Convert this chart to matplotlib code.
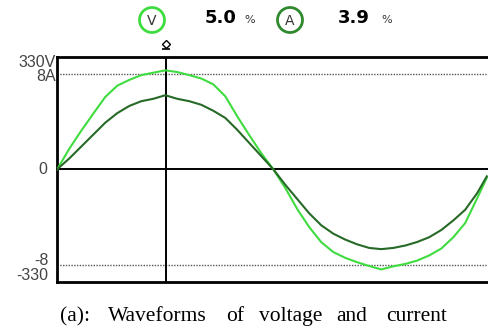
import matplotlib.pyplot as plt
from matplotlib.patches import Ellipse

# phase angle (deg) of each sample
angle = [0, 10, 20, 30, 40, 50, 60, 70, 80, 90, 100, 110, 120, 130, 140, 150, 160, 170, 180,
         190, 200, 210, 220, 230, 240, 250, 260, 270, 280, 290, 300, 310, 320, 330, 340, 350, 358]

# voltage, V
voltage = [0, 60, 113, 163, 212, 245, 262, 276, 283, 290, 285, 276, 266, 249, 214, 155, 100, 47, 0,
           -55, -117, -170, -214, -243, -260, -273, -284, -294, -285, -278, -268, -253, -233, -200, -158, -85, -25]

# current, A
current = [0, 0.9, 1.9, 2.9, 3.9, 4.7, 5.3, 5.7, 5.9, 6.2, 5.9, 5.7, 5.4, 4.9, 4.3, 3.3, 2.2, 1.1, 0,
           -1.3, -2.5, -3.7, -4.7, -5.4, -5.9, -6.3, -6.6, -6.7, -6.6, -6.4, -6.1, -5.7, -5.1, -4.3, -3.4, -2.0, -0.6]

v_full = 330      # V at frame edge
i_mark = 8        # A at dotted line
i_scale = 280 / i_mark   # dotted line sits at 280 on the voltage scale
cursor = 91

thd_v = "5.0"
thd_a = "3.9"

caption = ['(a):', 'Waveforms', 'of', 'voltage', 'and', 'current']
caption_x = [60, 108, 226, 259, 336, 386]   # left edge of each word, px

light = '#3fdc3f'
dark = '#276a27'

fig = plt.figure(figsize=(4.88, 3.28), dpi=100)
ax = fig.add_axes([0.1174, 0.1412, 0.8826, 0.6859])

ax.plot(angle, voltage, color=light, lw=1.5, zorder=3)
ax.plot(angle, [c * i_scale for c in current], color=dark, lw=1.5, zorder=3)

ax.axhline(0, color='black', lw=1.4, zorder=2)
ax.axvline(cursor, color='black', lw=1.4, zorder=2)
for y in (i_mark * i_scale, -i_mark * i_scale):
    ax.axhline(y, color='#555555', lw=1.0, ls=(0, (1, 1)), zorder=1)

ax.set_xlim(0, 359)
ax.set_ylim(-v_full, v_full)
ax.set_xticks([])
ax.set_yticks([])
ax.spines['right'].set_visible(False)
for s in ('top', 'left', 'bottom'):
    ax.spines[s].set_linewidth(2)

# scale labels on the left
lab = dict(transform=ax.get_yaxis_transform(), ha='right', va='center', fontsize=11.5,
           color='#444444', family='Liberation Sans')
ax.text(-0.004, 313, '330V', **lab)
ax.text(-0.004, 272, '8A', **lab)
ax.text(-0.023, 0, '0', **lab)
ax.text(-0.021, -269, '-8', **lab)
ax.text(-0.021, -313, '-330', **lab)

# cursor marker above the frame
ax.plot([cursor], [v_full + 38], marker='D', ms=4, mfc='white', mec='black', mew=1, clip_on=False)
ax.plot([cursor], [v_full + 22], marker='_', ms=6, mec='black', mew=1.2, clip_on=False)

# header: THD readings
W, H = 488, 328
fig.patches.append(Ellipse((152 / W, 1 - 20 / H), 25 / W, 25 / H, transform=fig.transFigure,
                           fc='white', ec=light, lw=2))
fig.text(152 / W, 1 - 21 / H, 'V', ha='center', va='center', fontsize=10, color='#333333')
fig.text(221 / W, 1 - 18 / H, thd_v, ha='center', va='center', fontsize=13, fontweight='bold')
fig.text(250 / W, 1 - 20 / H, '%', ha='center', va='center', fontsize=8, color='#333333')
fig.patches.append(Ellipse((290 / W, 1 - 20 / H), 25 / W, 25 / H, transform=fig.transFigure,
                           fc='white', ec='#2f8a2f', lw=2))
fig.text(290 / W, 1 - 21 / H, 'A', ha='center', va='center', fontsize=10, color='#333333')
fig.text(354 / W, 1 - 18 / H, thd_a, ha='center', va='center', fontsize=13, fontweight='bold')
fig.text(387 / W, 1 - 20 / H, '%', ha='center', va='center', fontsize=8, color='#333333')

for word, x in zip(caption, caption_x):
    fig.text(x / W, 1 - 321 / H, word, ha='left', va='baseline',
             fontsize=15.5, family='Liberation Serif')

fig.savefig('out.png', dpi=100)
